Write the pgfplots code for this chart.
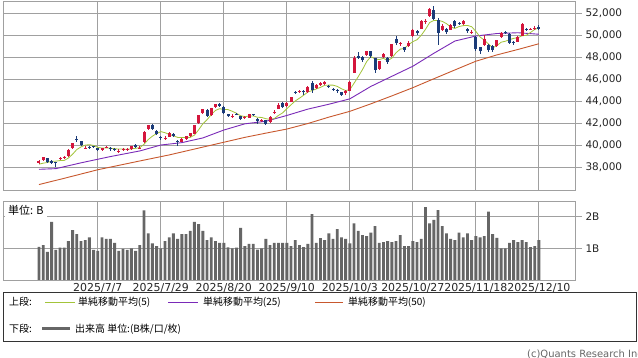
\documentclass[border=0pt]{standalone}
\usepackage{fontspec}
\setmainfont{DejaVu Sans}
\newfontfamily\jp{Noto Sans CJK JP}
\usepackage{pgfplots}
\usepackage{pgfplotstable}
\pgfplotsset{compat=1.18}
\definecolor{upred}{HTML}{D4163C}
\definecolor{dnblue}{HTML}{1B3B78}
\definecolor{maf}{HTML}{A3C43A}
\definecolor{mam}{HTML}{7A2AB8}
\definecolor{mal}{HTML}{C8582E}
\definecolor{gridg}{HTML}{A0A0A0}
\definecolor{volg}{HTML}{666666}

\pgfplotstableread{
i o h l c
0 38350 38600 38300 38537
1 38600 38900 38550 38885
5 38700 38950 38600 38791
6 38900 39000 38750 38942
7 39000 39600 38950 39585
8 39700 40200 39650 40151
11 39700 39900 39600 39762
15 39550 39750 39450 39689
16 39800 39900 39700 39821
19 39400 39600 39300 39460
20 39550 39750 39500 39678
21 39650 39750 39500 39663
22 39600 39950 39550 39901
24 39750 39900 39600 39775
25 40250 41250 40200 41171
26 41500 41850 41400 41826
30 40650 40800 40500 40655
31 40750 41150 40700 41070
34 40300 40600 40250 40550
35 40550 40850 40500 40795
36 40800 41100 40750 41059
37 41050 41850 41000 41820
38 42000 42750 41950 42718
39 42900 43300 42800 43275
41 42700 43400 42650 43378
42 43450 43750 43400 43714
46 42600 42800 42500 42633
49 42450 42600 42350 42520
50 42500 42850 42450 42829
53 42200 42400 42100 42310
55 42100 42600 42050 42580
56 43000 43200 42850 43019
57 43300 43800 43250 43644
59 43550 43900 43500 43838
60 43950 44400 43900 44373
62 44850 45050 44750 44902
64 44800 45350 44750 45303
66 45150 45550 45100 45494
67 45450 45700 45400 45630
68 45600 45800 45500 45755
73 44700 45000 44600 44937
74 44950 45800 44900 45770
75 46600 48150 46550 47945
78 48200 48600 48100 48580
81 46900 47700 46850 47673
82 48050 48350 47950 48278
84 48100 49200 48050 49186
86 49200 49400 49050 49308
88 49000 49500 48950 49300
89 49900 50550 49850 50512
91 50600 51350 50550 51308
92 51200 51500 51050 51326
93 51750 52450 51700 52411
96 50500 51050 50400 50884
98 50500 51000 50450 50912
101 51050 51350 50950 51282
103 50200 50450 50100 50324
106 49100 50000 49050 49700
109 49000 49600 48950 49559
110 49800 50300 49750 50167
114 49400 49900 49350 49865
115 49950 51100 49900 51028
117 50550 50700 50450 50582
118 50600 50800 50500 50655
}\upt

\pgfplotstableread{
i o h l c
2 38800 38850 38400 38488
3 38550 38650 38300 38403
4 38400 38500 38000 38354
9 40550 40850 40300 40487
10 40350 40400 39900 39986
12 39800 39900 39650 39786
13 39850 39950 39700 39811
14 39700 39750 39500 39588
17 39700 39800 39500 39646
18 39600 39700 39500 39570
23 40000 40050 39750 39819
27 41800 41900 41400 41456
28 41300 41350 40900 40998
29 40700 40800 40500 40675
32 41000 41100 40750 40800
33 40400 40500 39900 40291
40 43200 43250 42600 42649
43 43750 43800 43450 43546
44 43500 43550 42800 42889
45 42800 42850 42550 42610
47 42850 42950 42700 42808
48 42600 42650 42300 42394
51 42800 42850 42600 42718
52 42400 42450 41900 42189
54 42250 42300 41900 41939
58 43850 43900 43400 43459
61 44800 44950 44700 44768
63 44950 45000 44600 44790
65 45650 45850 44700 45046
69 45400 45500 45200 45355
70 45100 45200 44900 45044
71 45000 45100 44700 44933
72 44800 44850 44500 44551
76 48100 48500 47850 47951
77 48000 48100 47550 47735
79 48550 48600 47950 48089
80 47900 47950 46550 46847
83 47950 48000 47400 47582
85 49650 49950 49100 49316
87 48900 48950 48500 48642
90 50400 50450 50000 50219
94 52300 52650 51400 51497
95 51350 51550 49100 50212
97 50600 50650 50150 50276
99 51300 51400 50700 50843
100 51100 51250 50900 51063
102 50550 50700 50250 50377
104 49800 49900 48600 48703
105 48900 48950 48300 48538
107 49100 49200 48500 48626
108 49000 49100 48500 48660
111 50300 50400 50100 50254
112 50100 50200 49200 49303
113 49400 49500 49150 49303
116 50550 50700 50400 50492
119 50750 50950 50550 50603
}\dnt

\pgfplotstableread{
i m
0 38255
1 38348
2 38411
3 38525
4 38533
5 38584
6 38596
7 38815
8 39165
9 39591
10 39830
11 39994
12 40034
13 39966
14 39787
15 39727
16 39739
17 39711
18 39663
19 39637
20 39635
21 39603
22 39654
23 39704
24 39767
25 40066
26 40498
27 40809
28 41045
29 41225
30 41122
31 40971
32 40840
33 40698
34 40673
35 40701
36 40699
37 40903
38 41388
39 41933
40 42304
41 42768
42 43147
43 43312
44 43235
45 43227
46 43078
47 42897
48 42667
49 42593
50 42637
51 42654
52 42530
53 42513
54 42397
55 42347
56 42407
57 42698
58 42928
59 43308
60 43667
61 44016
62 44268
63 44534
64 44827
65 44962
66 45107
67 45253
68 45446
69 45456
70 45456
71 45343
72 45128
73 44964
74 45047
75 45627
76 46231
77 46868
78 47596
79 48060
80 47840
81 47785
82 47893
83 47694
84 47913
85 48407
86 48734
87 48807
88 49150
89 49416
90 49596
91 49996
92 50533
93 51155
94 51352
95 51351
96 51266
97 51056
98 50756
99 50625
100 50796
101 50875
102 50895
103 50778
104 50350
105 49845
106 49553
107 49203
108 48870
109 49041
110 49367
111 49453
112 49589
113 49717
114 49778
115 49951
116 49998
117 50254
118 50524
119 50672
}\mafive

\pgfplotstableread{
i m
0 37790
4 37850
10 38380
17 38950
24 39463
29 40001
34 40218
39 40647
44 41367
49 41932
54 42166
59 42693
64 43272
69 43716
74 44207
79 45340
84 46261
89 47178
94 48358
99 49473
104 49931
109 50157
114 50229
119 50093
}\matwfive

\pgfplotstableread{
i m
0 36400
6 36970
14 37750
24 38550
31 39100
40 39900
49 40698
54 41084
59 41456
64 41960
69 42542
74 43070
79 43753
84 44477
89 45225
94 46037
99 46840
104 47635
109 48209
114 48704
119 49226
}\mafifty

\pgfplotstableread{
i v
0 1.05
1 1.10
2 0.89
3 1.84
4 0.95
5 1.02
6 1.02
7 1.23
8 1.58
9 1.45
10 1.23
11 1.26
12 1.35
13 0.95
14 0.92
15 1.35
16 1.30
17 1.30
18 1.17
19 0.92
20 0.98
21 0.95
22 1.00
23 0.92
24 1.10
25 2.20
26 1.47
27 1.16
28 1.07
29 1.00
30 1.23
31 1.35
32 1.47
33 1.30
34 1.45
35 1.45
36 1.55
37 1.84
38 1.77
39 1.55
40 1.26
41 1.35
42 1.23
43 1.17
44 1.17
45 1.03
46 1.00
47 1.02
48 1.65
49 1.07
50 1.14
51 1.14
52 0.96
53 1.00
54 1.30
55 1.10
56 1.17
57 1.17
58 1.17
59 1.17
60 1.07
61 1.26
62 1.10
63 1.04
64 1.14
65 2.08
66 1.17
67 1.32
68 1.26
69 1.47
70 1.30
71 1.61
72 1.35
73 1.30
74 1.16
75 1.79
76 1.55
77 1.42
78 1.39
79 1.50
80 1.70
81 1.17
82 1.20
83 1.23
84 1.20
85 1.23
86 1.42
87 1.07
88 1.07
89 1.23
90 1.20
91 1.30
92 2.30
93 1.79
94 1.90
95 2.21
96 1.70
97 1.47
98 1.30
99 1.26
100 1.50
101 1.35
102 1.47
103 1.26
104 1.39
105 1.35
106 1.39
107 2.16
108 1.45
109 1.33
110 1.00
111 1.00
112 1.17
113 1.26
114 1.20
115 1.26
116 1.20
117 1.04
118 1.07
119 1.26
}\volt

\pgfplotsset{
  chartax/.style={
    scale only axis, width=572bp,
    xmin=-8.57, xmax=127.6,
    axis line style={gridg, line width=0.8bp},
    grid style={gridg, line width=0.8bp},
    xtick={14,29,44,59,74,89,104,119},
    xmajorgrids, ymajorgrids,
    xtick style={draw=none},
    ytick pos=right, yticklabel pos=right,
    tick align=outside,
    ytick style={gridg, line width=0.8bp},
    major tick length=7bp,
    tick label style={font=\fontsize{10.5}{12}\selectfont, text=black!85},
  },
  candle/.style={only marks, mark=*, mark size=0pt, mark options={draw opacity=0, fill opacity=0},
    error bars/.cd, y dir=both, y explicit, error mark=none},
}

\begin{document}
\begin{tikzpicture}
\useasboundingbox (0,0) rectangle (638bp,358bp);
\fill[white] (0,0) rectangle (638bp,358bp);

% price panel
\begin{axis}[chartax, at={(3bp,168bp)}, anchor=south west, height=189bp,
  ymin=35905, ymax=53120, ytick={38000,40000,...,52000},
  xticklabels={},
  scaled y ticks=false,
  yticklabel style={/pgf/number format/.cd, fixed, 1000 sep={,}, assume math mode=true}]
\addplot[mal, line width=0.9bp, no marks] table[x=i, y=m] {\mafifty};
\addplot[mam, line width=0.9bp, no marks] table[x=i, y=m] {\matwfive};
\addplot[maf, line width=0.8bp, no marks] table[x=i, y=m] {\mafive};
% wicks
\addplot[candle, error bar style={line width=0.9bp, upred}]
  table[x=i, y=c, y error plus expr={\thisrow{h}-\thisrow{c}}, y error minus expr={\thisrow{c}-\thisrow{l}}] {\upt};
\addplot[candle, error bar style={line width=0.9bp, dnblue}]
  table[x=i, y=c, y error plus expr={\thisrow{h}-\thisrow{c}}, y error minus expr={\thisrow{c}-\thisrow{l}}] {\dnt};
% bodies
\addplot[candle, error bar style={line width=3bp, upred}]
  table[x=i, y=c, y error plus expr={0}, y error minus expr={max(\thisrow{c}-\thisrow{o},60)}] {\upt};
\addplot[candle, error bar style={line width=3bp, dnblue}]
  table[x=i, y=c, y error plus expr={max(\thisrow{o}-\thisrow{c},60)}, y error minus expr={0}] {\dnt};
\end{axis}

% volume panel
\begin{axis}[chartax, at={(3bp,78bp)}, anchor=south west, height=78.3bp,
  ymin=0, ymax=2.475, ytick={1,2}, yticklabels={1B,2B},
  xticklabel style={yshift=7bp, font=\fontsize{11}{12}\selectfont},
  xticklabels={2025/7/7,2025/7/29,2025/8/20,2025/9/10,2025/10/3,2025/10/27,2025/11/18,2025/12/10}]
\addplot[ybar, bar width=0.68, bar shift=0pt, fill=volg, draw=none] table[x=i, y=v] {\volt};
\node[anchor=north west, inner sep=3bp, xshift=2bp, font=\jp\fontsize{11}{12}\selectfont, fill=white] at (rel axis cs:0,1) {単位: B};
\end{axis}

% legend box
\draw[black!80, line width=0.8bp] (3bp,17bp) rectangle (636bp,66bp);
\begin{scope}[font=\jp\fontsize{10}{12}\selectfont]
\node[anchor=west, inner sep=0] at (9bp,56bp) {上段:};
\draw[maf, line width=0.9bp] (45bp,56bp) -- (75bp,56bp);
\node[anchor=west, inner sep=0] at (78bp,56bp) {単純移動平均(5)};
\draw[mam, line width=0.9bp] (168bp,56bp) -- (198bp,56bp);
\node[anchor=west, inner sep=0] at (203bp,56bp) {単純移動平均(25)};
\draw[mal, line width=0.9bp] (315bp,56bp) -- (343bp,56bp);
\node[anchor=west, inner sep=0] at (348bp,56bp) {単純移動平均(50)};
\node[anchor=west, inner sep=0] at (9bp,29bp) {下段:};
\draw[volg, line width=3bp] (42bp,29bp) -- (70bp,29bp);
\node[anchor=west, inner sep=0] at (75bp,29bp) {出来高 単位:(B株/口/枚)};
\end{scope}
\node[anchor=base west, inner sep=0, text=black!60, font=\fontsize{10}{12}\selectfont] at (527bp,0.5bp) {(c)Quants Research Inc.};
\end{tikzpicture}
\end{document}
